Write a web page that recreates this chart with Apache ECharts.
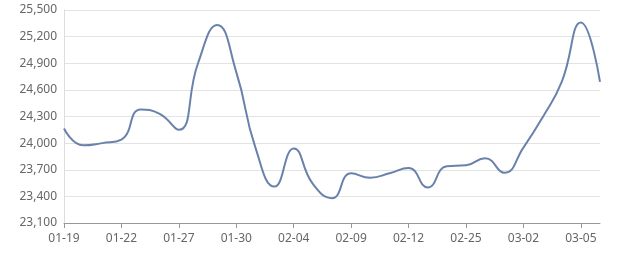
<!DOCTYPE html>
<html>
<head>
<meta charset="utf-8">
<script src="https://cdn.jsdelivr.net/npm/echarts@6/dist/echarts.min.js"></script>
<style>
html,body{margin:0;padding:0;background:#fff;}
#chart{width:640px;height:270px;}
</style>
</head>
<body>
<div id="chart"></div>
<script>
var categories = ['01-19','01-20','01-21','01-22','01-23','01-26','01-27','01-28','01-29','01-30',
  '02-02','02-03','02-04','02-05','02-06','02-09','02-10','02-11','02-12','02-13',
  '02-24','02-25','02-26','02-27','03-02','03-03','03-04','03-05','03-06'];
var values = [24165, 23975, 24000, 24040, 24380, 24330, 24150, 24900, 25330, 24800,
  23950, 23510, 23940, 23540, 23380, 23660, 23610, 23660, 23720, 23500,
  23740, 23750, 23830, 23665, 23950, 24290, 24690, 25360, 24690];
var yMin = 23100, yMax = 25500, yStep = 300;

var chart = echarts.init(document.getElementById('chart'), null, {renderer:'canvas'});
chart.setOption({
  animation: false,
  backgroundColor: '#fff',
  grid: {left: 64, right: 40, top: 10, bottom: 47},
  xAxis: {
    type: 'category',
    data: categories,
    boundaryGap: false,
    axisLine: {lineStyle: {color: '#999', width: 1}},
    axisTick: {show: true, interval: 2, length: 5, lineStyle: {color: '#999'}},
    axisLabel: {interval: 2, color: '#666', fontSize: 12, margin: 10, fontFamily: 'Noto Sans'}
  },
  yAxis: {
    type: 'value',
    min: yMin, max: yMax, interval: yStep,
    axisLine: {show: true, lineStyle: {color: '#ddd'}},
    axisTick: {show: false},
    splitLine: {lineStyle: {color: '#e3e3e3'}},
    axisLabel: {color: '#666', fontSize: 12, margin: 7, fontFamily: 'Noto Sans',
      formatter: function (v) { return v.toLocaleString('en-US'); }}
  },
  series: [{
    type: 'line',
    data: values,
    smooth: true,
    symbol: 'none',
    lineStyle: {color: '#6a82ab', width: 2}
  }]
});
</script>
</body>
</html>
